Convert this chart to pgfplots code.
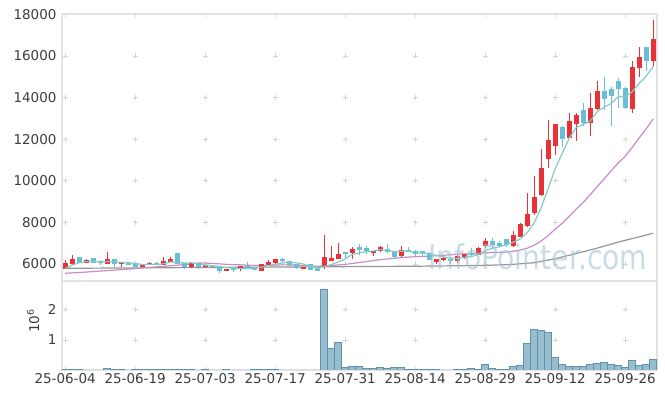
\documentclass[border=0pt]{standalone}
\usepackage{fontspec}
\setmainfont{DejaVu Sans}
\usepackage{pgfplots}
\usepackage{pgfplotstable}
\pgfplotsset{compat=1.18}

\definecolor{upc}{RGB}{233,50,56}
\definecolor{dnc}{RGB}{104,190,214}
\definecolor{maf}{RGB}{130,204,196}
\definecolor{mat}{RGB}{200,140,195}
\definecolor{mal}{RGB}{150,150,150}
\definecolor{volf}{RGB}{150,190,206}
\definecolor{vold}{RGB}{100,145,170}
\definecolor{framec}{RGB}{226,226,226}
\definecolor{gridc}{RGB}{212,212,212}
\definecolor{wm}{RGB}{165,195,213}
\definecolor{labc}{RGB}{60,60,60}

\pgfplotstableread{
x o h l c
0 5780 6190 5770 6060
1 5990 6420 5940 6250
3 6060 6250 6050 6210
6 5990 6560 5980 6240
8 5990 6090 5870 6080
11 5870 6010 5850 6000
12 5970 6080 5960 6050
14 5950 6340 5940 6140
15 6100 6340 6080 6260
18 5830 6060 5820 6050
20 5880 5960 5870 5950
23 5680 5770 5670 5760
25 5760 5910 5680 5900
28 5680 6010 5670 6000
29 5940 6190 5930 6110
30 6030 6250 5940 6240
34 5760 5870 5750 5860
37 5860 7380 5780 6320
38 6160 6850 6150 6270
39 6240 7010 6230 6480
41 6530 6800 6260 6720
44 6510 6640 6400 6610
45 6640 6880 6560 6820
48 6370 6880 6320 6670
53 6110 6250 5980 6240
54 6210 6340 6160 6300
56 6130 6450 6060 6400
57 6320 6480 6230 6460
59 6450 6830 6440 6790
60 6840 7240 6750 7120
64 6880 7600 6820 7400
65 7300 7960 7280 7920
66 7830 9430 7760 8410
67 8470 10230 8360 9210
68 9320 11520 9250 10600
69 11030 12900 10600 11960
70 11690 12740 11240 12730
72 12080 13250 12060 12880
73 12730 13260 11900 13170
75 12800 14220 12130 13490
76 13460 14790 13400 14310
81 13440 15760 13280 15480
82 15440 16420 15010 15960
84 15780 17740 15540 16820
}\up

\pgfplotstableread{
x o h l c
2 6340 6350 6050 6050
4 6290 6300 6040 6050
5 6110 6120 5960 6030
7 6240 6250 5870 6000
9 6060 6080 5950 5950
10 6030 6040 5840 5840
13 6050 6080 5940 6000
16 6510 6520 5980 5990
17 6030 6040 5740 5840
19 6050 6060 5740 5870
21 5920 5930 5850 5860
22 5890 5900 5550 5680
24 5840 5850 5630 5730
26 5890 6100 5830 5840
27 5840 5850 5720 5730
31 6240 6290 6030 6140
32 6140 6150 5960 5970
33 6010 6020 5780 5790
35 6010 6020 5700 5710
36 5790 5800 5670 5680
40 6560 6590 6270 6480
42 6820 6950 6420 6670
43 6750 6850 6500 6630
46 6740 6950 6530 6590
47 6630 6640 6260 6340
49 6650 6830 6590 6630
50 6640 6650 6370 6480
51 6630 6640 6370 6510
52 6550 6560 6180 6190
55 6240 6250 5980 6140
58 6510 6790 6320 6450
61 7110 7240 6790 6910
62 7000 7120 6800 6870
63 7200 7210 6800 6910
71 12600 12650 11620 12030
74 13380 13730 12650 12770
77 14310 14990 13410 13950
78 14410 14490 12640 14060
79 14800 14950 13500 14400
80 14460 14500 13450 13500
83 16420 16430 15280 15780
}\down

\pgfplotstableread{
x y
0 5770
1 5950
2 6060
3 6110
4 6124
5 6118
6 6116
7 6106
8 6080
9 6060
10 6022
11 5974
12 5984
13 5968
14 6006
15 6090
16 6088
17 6046
18 6056
19 6002
20 5940
21 5914
22 5882
23 5824
24 5796
25 5786
26 5782
27 5792
28 5840
29 5916
30 5984
31 6044
32 6092
33 6050
34 6000
35 5894
36 5802
37 5872
38 5968
39 6092
40 6246
41 6454
42 6524
43 6596
44 6622
45 6690
46 6664
47 6598
48 6606
49 6610
50 6542
51 6526
52 6496
53 6410
54 6344
55 6276
56 6254
57 6308
58 6350
59 6448
60 6644
61 6746
62 6828
63 6920
64 7042
65 7202
66 7502
67 7970
68 8708
69 9620
70 10582
71 11306
72 12040
73 12554
74 12716
75 12868
76 13324
77 13538
78 13716
79 14042
80 14044
81 14278
82 14680
83 15024
84 15508
}\mafive

\pgfplotstableread{
x y
0 5550
3 5610
6 5680
9 5750
12 5830
15 5910
18 6000
19 6048
20 6042
21 6023
22 6004
23 5982
24 5966
25 5960
26 5940
27 5926
28 5922
29 5930
30 5950
31 5957
32 5953
33 5942
34 5928
35 5901
36 5886
37 5910
38 5920
39 5951
40 5978
41 6020
42 6070
43 6114
44 6158
45 6204
46 6241
47 6272
48 6305
49 6331
50 6343
51 6362
52 6372
53 6395
54 6417
55 6438
56 6474
57 6482
58 6490
59 6506
60 6538
61 6548
62 6558
63 6572
64 6611
65 6666
66 6757
67 6900
68 7097
69 7364
70 7676
71 7952
72 8286
73 8633
74 8956
75 9324
76 9720
77 10094
78 10474
79 10855
80 11174
81 11602
82 12057
83 12500
84 12972
}\matwenty

\pgfplotstableread{
x y
0 5790
10 5810
20 5830
30 5850
40 5870
50 5890
60 5930
64 5980
67 6060
70 6250
73 6500
76 6760
79 7050
82 7300
84 7480
}\malong

\pgfplotstableread{
x v
0 0.02
1 0.02
2 0.02
3 0
4 0
5 0
6 0.055
7 0.02
8 0.02
9 0
10 0.02
11 0.02
12 0.02
13 0.02
14 0.02
15 0.02
16 0.02
17 0.02
18 0.02
19 0
20 0.02
21 0
22 0
23 0.02
24 0
25 0
26 0
27 0.02
28 0.02
29 0.02
30 0.02
31 0
32 0
33 0
34 0
35 0
36 0
37 2.70
38 0.73
39 0.93
40 0.09
41 0.12
42 0.12
43 0.055
44 0.055
45 0.09
46 0.055
47 0.09
48 0.09
49 0.02
50 0.02
51 0.02
52 0.02
53 0.02
54 0
55 0
56 0.02
57 0.02
58 0.055
59 0.02
60 0.19
61 0.055
62 0.02
63 0.02
64 0.12
65 0.16
66 0.89
67 1.36
68 1.33
69 1.26
70 0.42
71 0.19
72 0.12
73 0.12
74 0.12
75 0.19
76 0.22
77 0.26
78 0.19
79 0.16
80 0.09
81 0.32
82 0.16
83 0.19
84 0.36
}\vol

\pgfplotsset{
  common/.style={
    scale only axis, width=595pt, xmin=-0.45, xmax=84.55,
    axis line style={draw=framec, line width=1.5pt},
    major tick length=0pt,
    tick label style={font=\fontsize{13.5}{16}\selectfont, text=labc},
    /pgf/number format/assume math mode=true,
    /pgf/number format/1000 sep={},
    xtick={0,10,...,80},
    grid=major,
    x grid style={draw=gridc, line width=0.8pt},
    y grid style={draw=gridc, line width=0.8pt, dash pattern=on 5pt off 65pt, dash phase=69.35pt},
    yticklabel style={xshift=-2pt},
  },
  candle/.style n args={2}{only marks, mark=*, mark size=0pt,
    mark options={draw=none, fill=none},
    error bars/.cd, y dir=both, y explicit, error mark=none,
    error bar style={draw=#1, solid, line width=#2}},
}

\begin{document}
\begin{tikzpicture}
\useasboundingbox (0,0) rectangle (665pt,399pt);
\begin{axis}[common, at={(62pt,118pt)}, anchor=south west, height=267pt,
  ymin=5180, ymax=18020, ytick={6000,8000,...,18000}, scaled y ticks=false,
  xticklabels={},
  x grid style={dash pattern=on 5pt off 36.59pt, dash phase=27.04pt}]
\addplot[mal, line width=1.2pt, mark=none] table[x=x,y=y] {\malong};
\addplot[mat, line width=1.2pt, mark=none] table[x=x,y=y] {\matwenty};
\addplot[candle={upc}{1.2pt}]
  table[x=x, y expr={(\thisrow{h}+\thisrow{l})/2}, y error expr={(\thisrow{h}-\thisrow{l})/2}] {\up};
\addplot[candle={upc}{5.2pt}]
  table[x=x, y expr={(\thisrow{o}+\thisrow{c})/2}, y error expr={max(abs(\thisrow{c}-\thisrow{o})/2,25)}] {\up};
\addplot[candle={dnc}{1.2pt}]
  table[x=x, y expr={(\thisrow{h}+\thisrow{l})/2}, y error expr={(\thisrow{h}-\thisrow{l})/2}] {\down};
\addplot[candle={dnc}{5.2pt}]
  table[x=x, y expr={(\thisrow{o}+\thisrow{c})/2}, y error expr={max(abs(\thisrow{c}-\thisrow{o})/2,25)}] {\down};
\addplot[maf, line width=1.2pt, mark=none] table[x=x,y=y] {\mafive};
\end{axis}
\begin{axis}[common, at={(62pt,29pt)}, anchor=south west, height=89pt,
  ymin=0, ymax=2.96, ytick={1,2},
  xticklabels={25-06-04,25-06-19,25-07-03,25-07-17,25-07-31,25-08-14,25-08-29,25-09-12,25-09-26},
  x grid style={dash pattern=on 5pt off 25.07pt, dash phase=2.5pt},
  ylabel={10\textsuperscript{6}},
  ylabel style={at={(axis description cs:-0.0487,0.55)}, anchor=center, font=\fontsize{13.5}{16}\selectfont, text=labc}]
\addplot[ybar, bar width=1, bar shift=0pt, fill=volf, draw=vold, line width=0.6pt] table[x=x,y=v] {\vol};
\end{axis}
\node[anchor=base west, font=\fontsize{34}{34}\selectfont, text=wm, opacity=0.6, xscale=0.83, inner sep=0pt] at (428pt,129pt) {InfoPointer.com};
\end{tikzpicture}
\end{document}
